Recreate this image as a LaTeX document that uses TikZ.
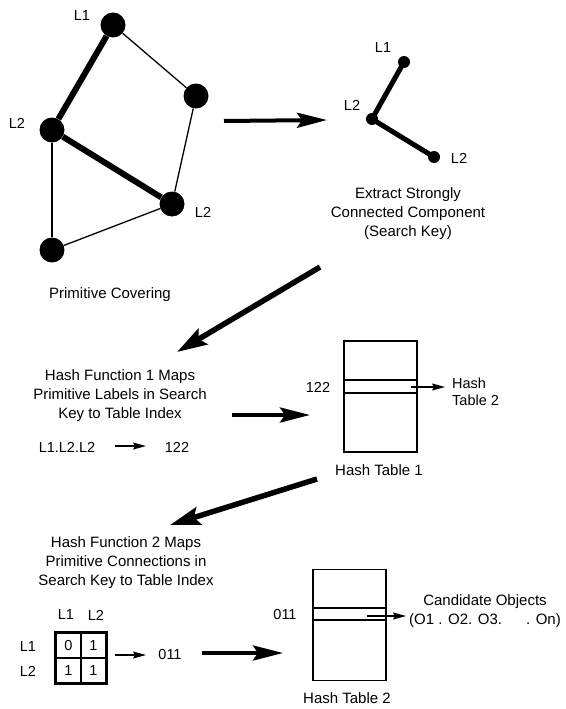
\documentclass[tikz,border=0pt]{standalone}
\usepackage{fontspec}
\setmainfont{Liberation Sans}
\usetikzlibrary{arrows.meta}
\begin{document}
\begin{tikzpicture}[x=1pt,y=-1pt,
  txt/.style={font=\fontsize{15}{19}\selectfont, inner sep=0pt, align=center},
  lbl/.style={font=\fontsize{14.5}{18}\selectfont, inner sep=0pt},
  bigdot/.style={circle, fill=black, minimum size=25pt, inner sep=0pt},
  smalldot/.style={circle, fill=black, minimum size=12pt, inner sep=0pt},
  thickedge/.style={line width=6pt},
  thinedge/.style={line width=1.3pt},
  bigarrow/.style={line width=4pt, -{Stealth[length=30pt,width=15pt,inset=5pt]}},
  diagarrow/.style={line width=5.5pt, -{Stealth[length=30pt,width=18pt,inset=5pt]}},
  smallarrow/.style={line width=1.2pt, -{Stealth[length=13pt,width=7pt,inset=2pt]}},
  tablebox/.style={draw, line width=1.3pt, minimum width=73pt, minimum height=111pt, inner sep=0pt},
  cell/.style={draw, line width=1.2pt, minimum size=25pt, inner sep=0pt, font=\fontsize{14.5}{18}\selectfont}
]
\useasboundingbox (0,0) rectangle (565,709);

% ---- Primitive covering graph
\node[bigdot] (a) at (113,25) {};
\node[bigdot] (b) at (196,96) {};
\node[bigdot] (c) at (52,130) {};
\node[bigdot] (d) at (172,204) {};
\node[bigdot] (e) at (52,250) {};
\draw[thickedge] (a) -- (c);
\draw[thickedge] (c) -- (d);
\draw[thinedge] (a) -- (b);
\draw[thinedge] (b) -- (d);
\draw[thinedge] (c) -- (e);
\draw[thinedge] (e) -- (d);
\node[lbl] (la) at (82,16) {L1};
\node[lbl] (lc) at (17,123) {L2};
\node[lbl] (ld) at (203,212) {L2};
\node[txt] (pc) at (110,295) {Primitive Covering};

% ---- arrow to search key
\coordinate (a1s) at (224,121);
\coordinate (a1e) at (327,120);
\draw[bigarrow] (a1s) -- (a1e);

% ---- search key graph
\node[smalldot] (s1) at (404,62) {};
\node[smalldot] (s2) at (372,119) {};
\node[smalldot] (s3) at (434,157) {};
\draw[line width=5pt] (s1.center) -- (s2.center) -- (s3.center);
\node[lbl] (ls1) at (383,48) {L1};
\node[lbl] (ls2) at (352,105) {L2};
\node[lbl] (ls3) at (459,158) {L2};
\node[txt] (sk) at (408,214) {Extract Strongly\\Connected Component\\(Search Key)};

% ---- diagonal arrow 1
\coordinate (d1s) at (320,267);
\coordinate (d1e) at (177,352);
\draw[diagarrow] (d1s) -- (d1e);

% ---- hash function 1
\node[txt] (hf1) at (120,396) {Hash Function 1 Maps\\Primitive Labels in Search\\Key to Table Index};
\node[lbl] (l122) at (67,447) {L1.L2.L2};
\node[lbl] (n122) at (177,447) {122};
\draw[smallarrow] (115,446) -- (146,446);

\coordinate (a2s) at (232,415);
\coordinate (a2e) at (310,415);
\draw[bigarrow] (a2s) -- (a2e);

% ---- hash table 1
\node[tablebox] (ht1) at (380.5,396.5) {};
\draw[line width=1.3pt] (344,380) -- (417,380);
\draw[line width=1.3pt] (344,393) -- (417,393);
\node[lbl] (i122) at (318,387) {122};
\coordinate (p1) at (411,387);
\node[lbl, align=left, anchor=west] (ht2ref) at (452,392) {Hash\\[-1pt]Table 2};
\draw[smallarrow] (p1) -- (445,387);
\node[txt] (ht1l) at (379,470) {Hash Table 1};

% ---- diagonal arrow 2
\coordinate (d2s) at (317,479);
\coordinate (d2e) at (170,525);
\draw[diagarrow] (d2s) -- (d2e);

% ---- hash function 2
\node[txt] (hf2) at (126,563) {Hash Function 2 Maps\\Primitive Connections in\\Search Key to Table Index};
\node[lbl] (hL1) at (66,615) {L1};
\node[lbl] (hL2) at (96,615) {L2};
\node[lbl] (rL1) at (28,647) {L1};
\node[lbl] (rL2) at (28,671) {L2};
\node[cell] (c11) at (68.5,645.5) {0};
\node[cell] (c12) at (93.5,645.5) {1};
\node[cell] (c21) at (68.5,670.5) {1};
\node[cell] (c22) at (93.5,670.5) {1};
\draw[line width=2.2pt] (c11.north west) rectangle (c22.south east);
\draw[smallarrow] (115,655) -- (146,655);
\node[lbl] (n011) at (170,655) {011};

\coordinate (a3s) at (202,653);
\coordinate (a3e) at (283,653);
\draw[bigarrow] (a3s) -- (a3e);

% ---- hash table 2
\node[tablebox] (ht2) at (349.5,625) {};
\draw[line width=1.3pt] (312,608) -- (387,608);
\draw[line width=1.3pt] (312,620) -- (387,620);
\node[lbl] (i011) at (285,615) {011};
\coordinate (p2) at (367,616);
\draw[smallarrow] (p2) -- (406,616);
\node[txt] (cand) at (485,611) {Candidate Objects\\(O1 . O2. O3.\hspace{1.6em}. On)};
\node[txt] (ht2l) at (347,698) {Hash Table 2};
\end{tikzpicture}
\end{document}
